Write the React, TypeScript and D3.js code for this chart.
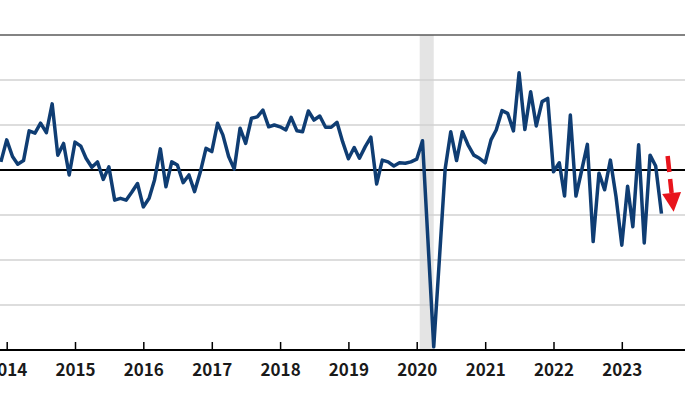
import React, { useRef, useEffect } from 'react';
import * as d3 from 'd3';

// monthly values, first month Dec 2013, last Aug 2023
const firstMonth = new Date(2013, 11, 1);
const values = [
  0.18,
  0.67, 0.30, 0.13, 0.21, 0.87, 0.82, 1.04, 0.83, 1.47, 0.33, 0.59, -0.11,
  0.62, 0.53, 0.26, 0.06, 0.18, -0.21, 0.07, -0.67, -0.63, -0.67, -0.49, -0.30,
  -0.82, -0.63, -0.22, 0.47, -0.37, 0.18, 0.11, -0.28, -0.11, -0.48, -0.04, 0.48,
  0.41, 1.04, 0.78, 0.30, 0.02, 0.93, 0.59, 1.15, 1.18, 1.33, 0.96, 1.00,
  0.96, 0.89, 1.17, 0.87, 0.85, 1.31, 1.11, 1.20, 0.95, 0.95, 1.06, 0.63,
  0.25, 0.50, 0.26, 0.52, 0.73, -0.31, 0.22, 0.18, 0.09, 0.16, 0.15, 0.18,
  0.24, 0.65, -1.56, -3.93, -2.00, 0.02, 0.85, 0.21, 0.85, 0.56, 0.33, 0.26,
  0.16, 0.67, 0.89, 1.32, 1.26, 0.87, 2.16, 0.90, 1.74, 0.98, 1.52, 1.59,
  -0.04, 0.16, -0.58, 1.22, -0.58, 0.00, 0.57, -1.59, -0.07, -0.44, 0.22, -0.59,
  -1.67, -0.36, -1.26, 0.56, -1.62, 0.33, 0.09, -0.97,
];
const yearTicks = [2014, 2015, 2016, 2017, 2018, 2019, 2020, 2021, 2022, 2023];
const gridValues = [-3, -2, -1, 1, 2];
const shadeStart = new Date(2020, 0, 17);
const shadeEnd = new Date(2020, 3, 1);
// red arrow (start/end in chart coords)
const arrowFrom = [new Date(2023, 8, 3), 0.31];
const arrowTo = [new Date(2023, 9, 5), -0.93];

const App = () => {
  const svgRef = useRef(null);

  useEffect(() => {
    const w = 700;
    const h = 394;
    const svg = d3.select(svgRef.current).attr('width', w).attr('height', h);
    svg.selectAll('*').remove();

    const months = values.map((_, i) => d3.timeMonth.offset(firstMonth, i));

    const x = d3.scaleTime()
      .domain([new Date(2014, 0, 1), new Date(2023, 0, 1)])
      .range([6.7, 621.8]);
    const y = d3.scaleLinear().domain([-4, 3]).range([350, 35]);
    const left = 0;
    const right = 685;

    // shaded period
    svg.append('rect')
      .attr('x', x(shadeStart))
      .attr('y', y(3))
      .attr('width', x(shadeEnd) - x(shadeStart))
      .attr('height', y(-4) - y(3))
      .attr('fill', '#e4e4e4');

    // grid
    svg.selectAll('.grid').data(gridValues).join('line')
      .attr('x1', left).attr('x2', right)
      .attr('y1', d => y(d)).attr('y2', d => y(d))
      .attr('stroke', '#d2d2d2').attr('stroke-width', 1.5);

    svg.append('line')
      .attr('x1', left).attr('x2', right)
      .attr('y1', y(3)).attr('y2', y(3))
      .attr('stroke', '#5a5a5a').attr('stroke-width', 1.5);

    svg.append('line')
      .attr('x1', left).attr('x2', right)
      .attr('y1', y(0)).attr('y2', y(0))
      .attr('stroke', '#000').attr('stroke-width', 2);

    // x axis
    svg.append('line')
      .attr('x1', left).attr('x2', right)
      .attr('y1', y(-4)).attr('y2', y(-4))
      .attr('stroke', '#000').attr('stroke-width', 2);

    const xAxis = d3.axisBottom(x)
      .tickValues(yearTicks.map(yr => new Date(yr, 0, 1)))
      .tickFormat(d => d3.timeFormat('%Y')(d))
      .tickSizeInner(-8)
      .tickSizeOuter(0)
      .tickPadding(14);

    const gx = svg.append('g').attr('transform', `translate(0,${y(-4)})`).call(xAxis);
    gx.select('.domain').remove();
    gx.selectAll('.tick line').attr('stroke', '#000').attr('stroke-width', 1.5);
    gx.selectAll('.tick text')
      .attr('fill', '#1a1a1a')
      .style('font-family', '"Noto Sans CJK JP", "Noto Sans", sans-serif')
      .style('font-size', '17px')
      .style('font-weight', 'bold');

    // series
    const line = d3.line().x((d, i) => x(months[i])).y(d => y(d));
    svg.append('path')
      .datum(values)
      .attr('d', line)
      .attr('fill', 'none')
      .attr('stroke', '#0f3d73')
      .attr('stroke-width', 3.5)
      .attr('stroke-linejoin', 'round');

    // red dashed arrow
    const ax0 = x(arrowFrom[0]);
    const ay0 = y(arrowFrom[1]);
    const ax1 = x(arrowTo[0]);
    const ay1 = y(arrowTo[1]);
    const headLen = 19;
    const ang = Math.atan2(ay1 - ay0, ax1 - ax0);
    const bx = ax1 - headLen * Math.cos(ang);
    const by = ay1 - headLen * Math.sin(ang);
    svg.append('line')
      .attr('x1', ax0).attr('y1', ay0)
      .attr('x2', bx).attr('y2', by)
      .attr('stroke', '#e8141c')
      .attr('stroke-width', 4.5)
      .attr('stroke-dasharray', '16,7');
    const px = -Math.sin(ang);
    const py = Math.cos(ang);
    const hw = 9.5;
    svg.append('path')
      .attr('d', `M${bx + px * hw},${by + py * hw}L${bx - px * hw},${by - py * hw}L${ax1},${ay1}Z`)
      .attr('fill', '#e8141c');
  }, []);

  return (
    <div>
      <style>{`body{margin:0;overflow:hidden;}`}</style>
      <svg ref={svgRef} style={{ display: 'block' }}></svg>
    </div>
  );
};

export default App;
